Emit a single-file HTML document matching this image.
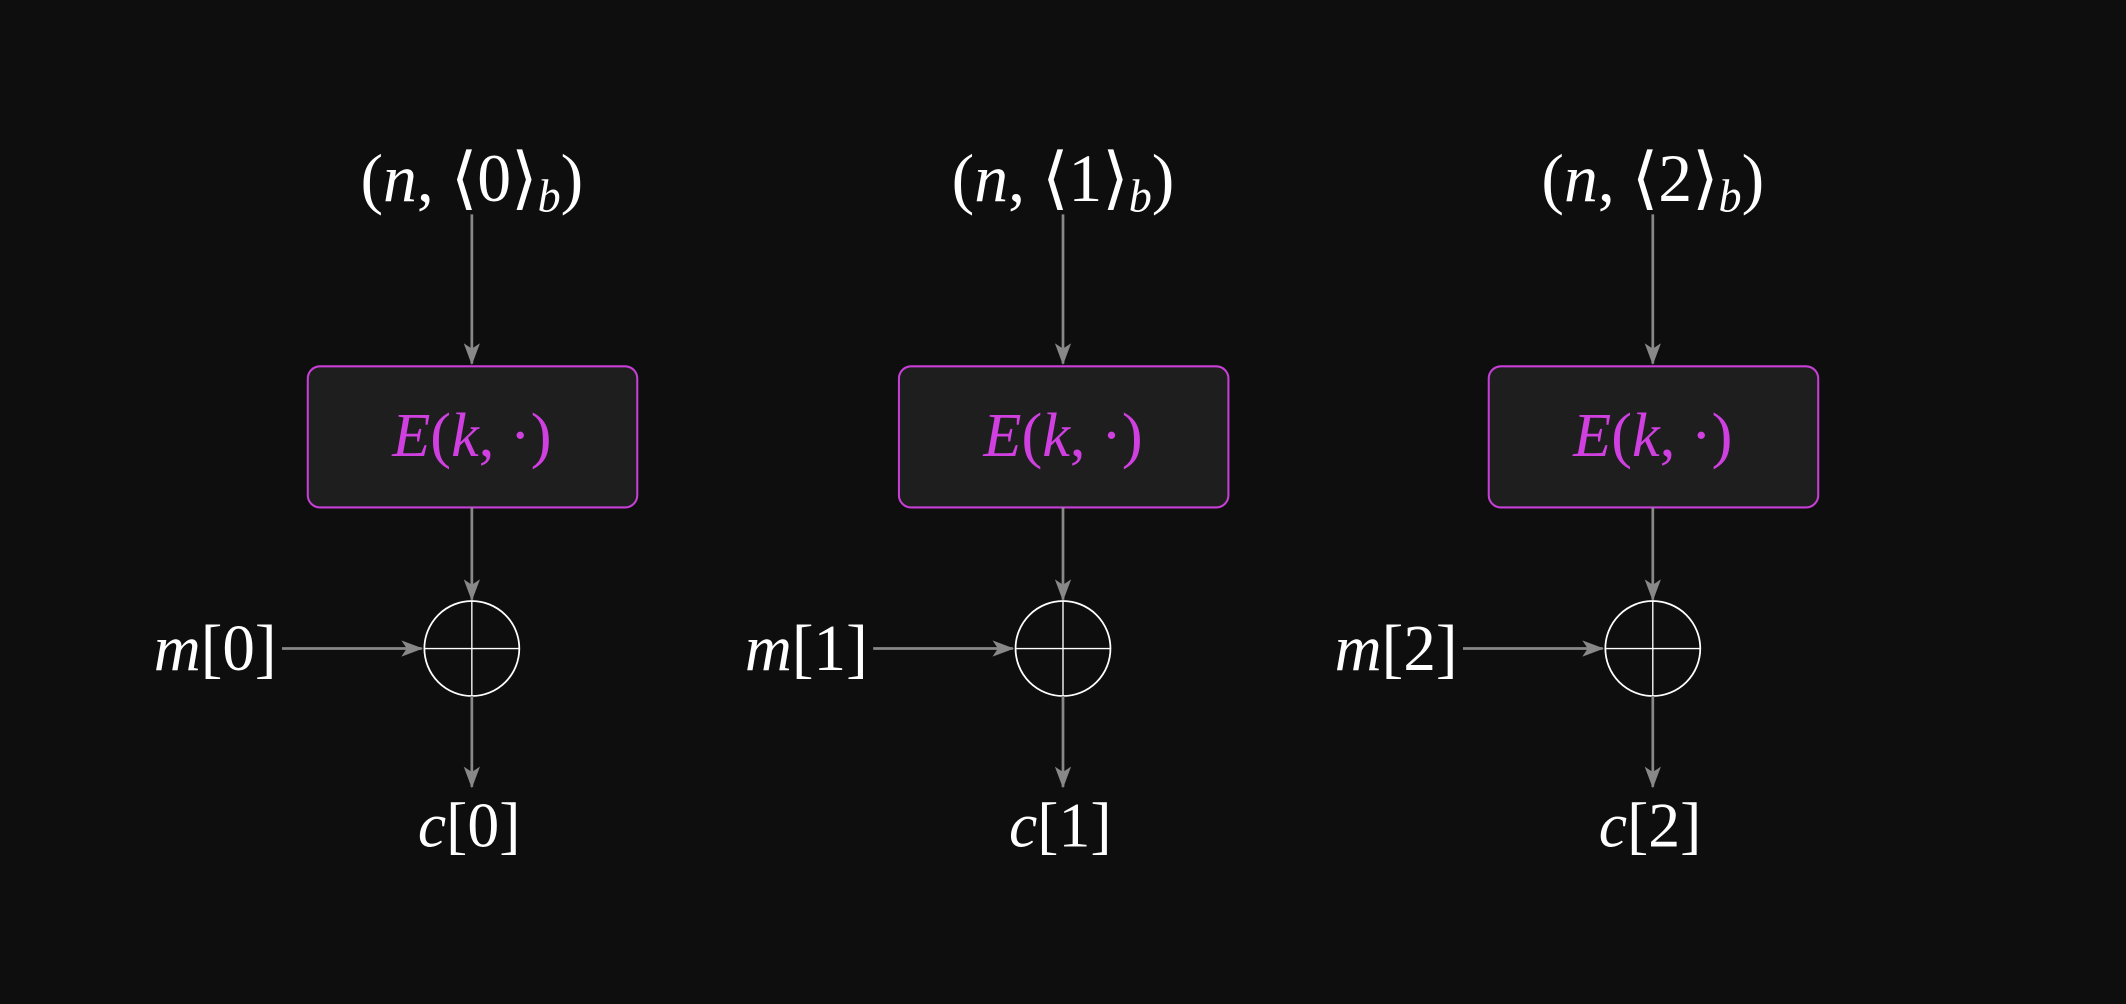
<!DOCTYPE html>
<html><head><meta charset="utf-8"><style>
html,body{margin:0;padding:0;background:#0e0e0e;}
svg{display:block}
text{font-family:"Liberation Serif",serif;}
</style></head><body>
<svg width="2126" height="1004" viewBox="0 0 1568 740" preserveAspectRatio="none">
<defs><marker id="a" markerWidth="16" markerHeight="14" refX="15" refY="6" orient="auto" markerUnits="userSpaceOnUse"><path d="M0,0 L16,6 L0,12 L4,6 Z" fill="#888"/></marker></defs>
<rect width="1568" height="740" fill="#0e0e0e"/>
<g id="c0">
<text x="348" y="148" font-size="50" fill="#fff" text-anchor="middle"><tspan>(</tspan><tspan font-style="italic">n</tspan><tspan>, ⟨0⟩</tspan><tspan font-style="italic" font-size="34" dy="8">b</tspan><tspan dy="-8">)</tspan></text>
<line x1="348" y1="158" x2="348" y2="268" stroke="#888" stroke-width="2" marker-end="url(#a)"/>
<rect x="227" y="270" width="243" height="104" rx="9" fill="#1e1e1e" stroke="#c83fd8" stroke-width="1.5"/>
<text x="348" y="336" font-size="46" fill="#d040e0" text-anchor="middle"><tspan font-style="italic">E</tspan>(<tspan font-style="italic">k</tspan>, ·)</text>
<line x1="348" y1="374" x2="348" y2="442" stroke="#888" stroke-width="2" marker-end="url(#a)"/>
<circle cx="348" cy="478" r="35" fill="none" stroke="#fff" stroke-width="1.3"/>
<line x1="313" y1="478" x2="383" y2="478" stroke="#fff" stroke-width="1"/>
<line x1="348" y1="443" x2="348" y2="513" stroke="#fff" stroke-width="1"/>
<line x1="208" y1="478" x2="311" y2="478" stroke="#888" stroke-width="2" marker-end="url(#a)"/>
<text x="204" y="494" font-size="48" fill="#fff" text-anchor="end"><tspan font-style="italic">m</tspan>[0]</text>
<line x1="348" y1="513" x2="348" y2="580" stroke="#888" stroke-width="2" marker-end="url(#a)"/>
<text x="346" y="624" font-size="47" fill="#fff" text-anchor="middle"><tspan font-style="italic">c</tspan>[0]</text>
</g>
<g transform="translate(436,0)">
<text x="348" y="148" font-size="50" fill="#fff" text-anchor="middle"><tspan>(</tspan><tspan font-style="italic">n</tspan><tspan>, ⟨1⟩</tspan><tspan font-style="italic" font-size="34" dy="8">b</tspan><tspan dy="-8">)</tspan></text>
<line x1="348" y1="158" x2="348" y2="268" stroke="#888" stroke-width="2" marker-end="url(#a)"/>
<rect x="227" y="270" width="243" height="104" rx="9" fill="#1e1e1e" stroke="#c83fd8" stroke-width="1.5"/>
<text x="348" y="336" font-size="46" fill="#d040e0" text-anchor="middle"><tspan font-style="italic">E</tspan>(<tspan font-style="italic">k</tspan>, ·)</text>
<line x1="348" y1="374" x2="348" y2="442" stroke="#888" stroke-width="2" marker-end="url(#a)"/>
<circle cx="348" cy="478" r="35" fill="none" stroke="#fff" stroke-width="1.3"/>
<line x1="313" y1="478" x2="383" y2="478" stroke="#fff" stroke-width="1"/>
<line x1="348" y1="443" x2="348" y2="513" stroke="#fff" stroke-width="1"/>
<line x1="208" y1="478" x2="311" y2="478" stroke="#888" stroke-width="2" marker-end="url(#a)"/>
<text x="204" y="494" font-size="48" fill="#fff" text-anchor="end"><tspan font-style="italic">m</tspan>[1]</text>
<line x1="348" y1="513" x2="348" y2="580" stroke="#888" stroke-width="2" marker-end="url(#a)"/>
<text x="346" y="624" font-size="47" fill="#fff" text-anchor="middle"><tspan font-style="italic">c</tspan>[1]</text>
</g>
<g transform="translate(871,0)">
<text x="348" y="148" font-size="50" fill="#fff" text-anchor="middle"><tspan>(</tspan><tspan font-style="italic">n</tspan><tspan>, ⟨2⟩</tspan><tspan font-style="italic" font-size="34" dy="8">b</tspan><tspan dy="-8">)</tspan></text>
<line x1="348" y1="158" x2="348" y2="268" stroke="#888" stroke-width="2" marker-end="url(#a)"/>
<rect x="227" y="270" width="243" height="104" rx="9" fill="#1e1e1e" stroke="#c83fd8" stroke-width="1.5"/>
<text x="348" y="336" font-size="46" fill="#d040e0" text-anchor="middle"><tspan font-style="italic">E</tspan>(<tspan font-style="italic">k</tspan>, ·)</text>
<line x1="348" y1="374" x2="348" y2="442" stroke="#888" stroke-width="2" marker-end="url(#a)"/>
<circle cx="348" cy="478" r="35" fill="none" stroke="#fff" stroke-width="1.3"/>
<line x1="313" y1="478" x2="383" y2="478" stroke="#fff" stroke-width="1"/>
<line x1="348" y1="443" x2="348" y2="513" stroke="#fff" stroke-width="1"/>
<line x1="208" y1="478" x2="311" y2="478" stroke="#888" stroke-width="2" marker-end="url(#a)"/>
<text x="204" y="494" font-size="48" fill="#fff" text-anchor="end"><tspan font-style="italic">m</tspan>[2]</text>
<line x1="348" y1="513" x2="348" y2="580" stroke="#888" stroke-width="2" marker-end="url(#a)"/>
<text x="346" y="624" font-size="47" fill="#fff" text-anchor="middle"><tspan font-style="italic">c</tspan>[2]</text>
</g>
</svg>
</body></html>
